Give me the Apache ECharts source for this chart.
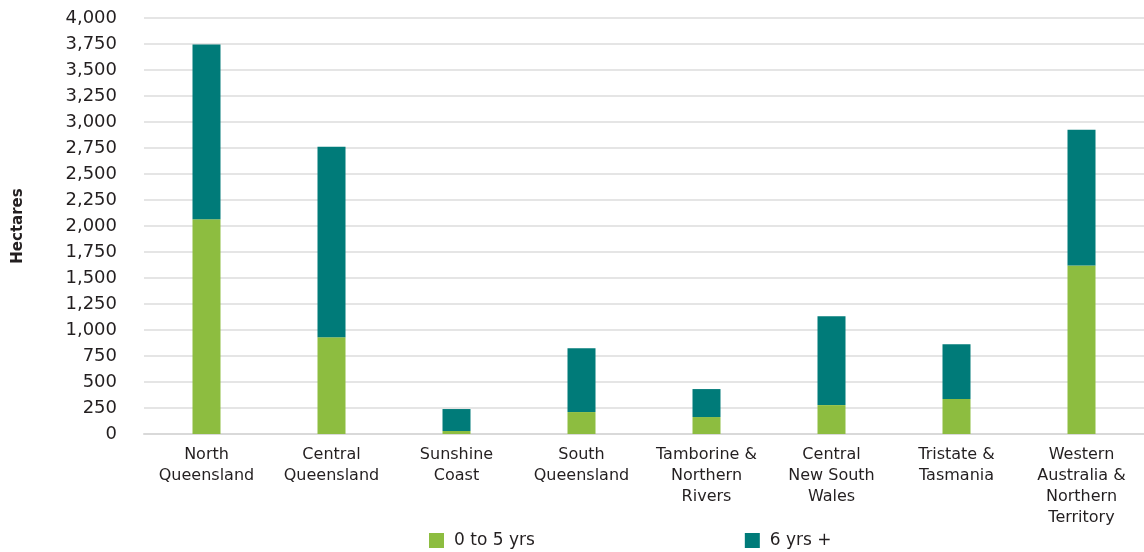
<!DOCTYPE html>
<html>
<head>
<meta charset="utf-8">
<script src="https://cdn.jsdelivr.net/npm/echarts@6/dist/echarts.min.js"></script>
<style>
html,body{margin:0;padding:0;background:#fff;}
#c{width:1144px;height:552px;}
</style>
</head>
<body>
<div id="c"></div>
<script>
const categories = ["North\nQueensland","Central\nQueensland","Sunshine\nCoast","South\nQueensland","Tamborine &\nNorthern\nRivers","Central\nNew South\nWales","Tristate &\nTasmania","Western\nAustralia &\nNorthern\nTerritory"];
const young = [2065, 930, 29, 211, 163, 278, 336, 1621];
const old = [1680, 1833, 211, 614, 269, 854, 527, 1305];
const seriesNames = ["0 to 5 yrs", "6 yrs +"];

const FONT = "DejaVu Sans";
const TXT = "#231f20";
const chart = echarts.init(document.getElementById('c'));
chart.setOption({
  animation: false,
  textStyle: {fontFamily: FONT},
  grid: {left: 144, right: 0, top: 18, bottom: 118, containLabel: false},
  legend: {
    data: seriesNames,
    left: 424, top: 527,
    itemWidth: 15, itemHeight: 15, itemGap: 210,
    icon: 'rect',
    textStyle: {fontFamily: FONT, fontSize: 17, color: TXT, padding: [0,0,0,5]}
  },
  xAxis: {
    type: 'category',
    data: categories,
    axisTick: {show: false},
    axisLine: {lineStyle: {color: '#d9d9d9', width: 2}},
    axisLabel: {interval: 0, margin: 10, fontFamily: FONT, fontSize: 16, color: TXT, lineHeight: 21}
  },
  yAxis: {
    type: 'value',
    min: 0, max: 4000, interval: 250,
    name: 'Hectares',
    nameLocation: 'middle',
    nameGap: 118,
    nameRotate: 90,
    nameTextStyle: {fontFamily: FONT, fontSize: 15, fontWeight: 'bold', color: TXT},
    axisLine: {show: false},
    axisTick: {show: false},
    splitLine: {lineStyle: {color: '#dcdcdc', width: 1.5}},
    axisLabel: {margin: 27, fontFamily: FONT, fontSize: 18, color: TXT,
      formatter: v => v.toLocaleString('en-US')}
  },
  series: [
    {name: seriesNames[0], type: 'bar', stack: 't', data: young, barWidth: 28, itemStyle: {color: '#8dbd40'}},
    {name: seriesNames[1], type: 'bar', stack: 't', data: old, barWidth: 28, itemStyle: {color: '#007b79'}}
  ]
});
</script>
</body>
</html>
